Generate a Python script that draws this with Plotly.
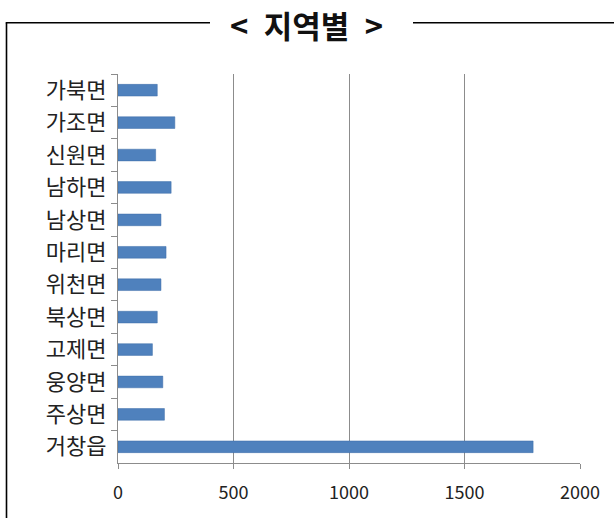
import plotly.graph_objects as go

categories = ["가북면", "가조면", "신원면", "남하면", "남상면", "마리면",
              "위천면", "북상면", "고제면", "웅양면", "주상면", "거창읍"]
values = [170, 246, 163, 230, 186, 208, 186, 170, 149, 194, 201, 1797]
x_ticks = [0, 500, 1000, 1500, 2000]
title_text = "<\u2002지역별\u2002>"

W, H = 614, 518
L, R, T, B = 118, 34, 74, 55
pw, ph = W - L - R, H - T - B

def px_x(px):
    return (px - L) / pw

def px_y(py):
    return (H - B - py) / ph

fig = go.Figure(go.Bar(
    x=values, y=categories, orientation="h",
    marker=dict(color="#4F81BD", line=dict(color="#3D6DA8", width=0.5)),
))

fig.update_layout(
    width=W, height=H,
    margin=dict(l=L, r=R, t=T, b=B),
    paper_bgcolor="white", plot_bgcolor="white",
    bargap=0.64, showlegend=False,
    font=dict(family="Noto Sans CJK KR", color="#222"),
)
fig.update_xaxes(
    range=[0, 2000], tickvals=x_ticks, ticktext=[str(v) for v in x_ticks],
    showgrid=True, gridcolor="#8c8c8c", gridwidth=1,
    showline=True, linecolor="#8c8c8c", linewidth=1,
    ticks="outside", ticklen=5, tickcolor="#8c8c8c",
    ticklabelstandoff=8,
    tickfont=dict(size=18, family="Noto Sans CJK KR", color="#222"),
    zeroline=False, fixedrange=True,
)
fig.update_yaxes(
    autorange="reversed", tickson="boundaries",
    showline=True, linecolor="#8c8c8c", linewidth=1,
    ticks="outside", ticklen=6, tickcolor="#8c8c8c",
    ticklabelstandoff=6,
    tickfont=dict(size=22, family="Noto Sans CJK KR", color="#222"),
    showgrid=False, fixedrange=True,
)

frame_color = "#000"
fig.add_shape(type="line", xref="paper", yref="paper",
              x0=px_x(6.5), x1=px_x(6.5), y0=px_y(22.7), y1=px_y(520),
              line=dict(color=frame_color, width=1.6))
fig.add_shape(type="line", xref="paper", yref="paper",
              x0=px_x(5.7), x1=px_x(210), y0=px_y(22.7), y1=px_y(22.7),
              line=dict(color=frame_color, width=1.6))
fig.add_shape(type="line", xref="paper", yref="paper",
              x0=px_x(413), x1=px_x(616), y0=px_y(22.7), y1=px_y(22.7),
              line=dict(color=frame_color, width=1.6))

fig.add_annotation(
    text=f"<b>{title_text}</b>", xref="paper", yref="paper",
    x=px_x(306), y=px_y(25), xanchor="center", yanchor="middle",
    showarrow=False, font=dict(size=31, family="Noto Sans CJK KR", color="#111"),
)

fig.write_html("out.html", config={"displayModeBar": False},
               post_script="document.body.style.margin='0';document.body.style.overflow='hidden';")
